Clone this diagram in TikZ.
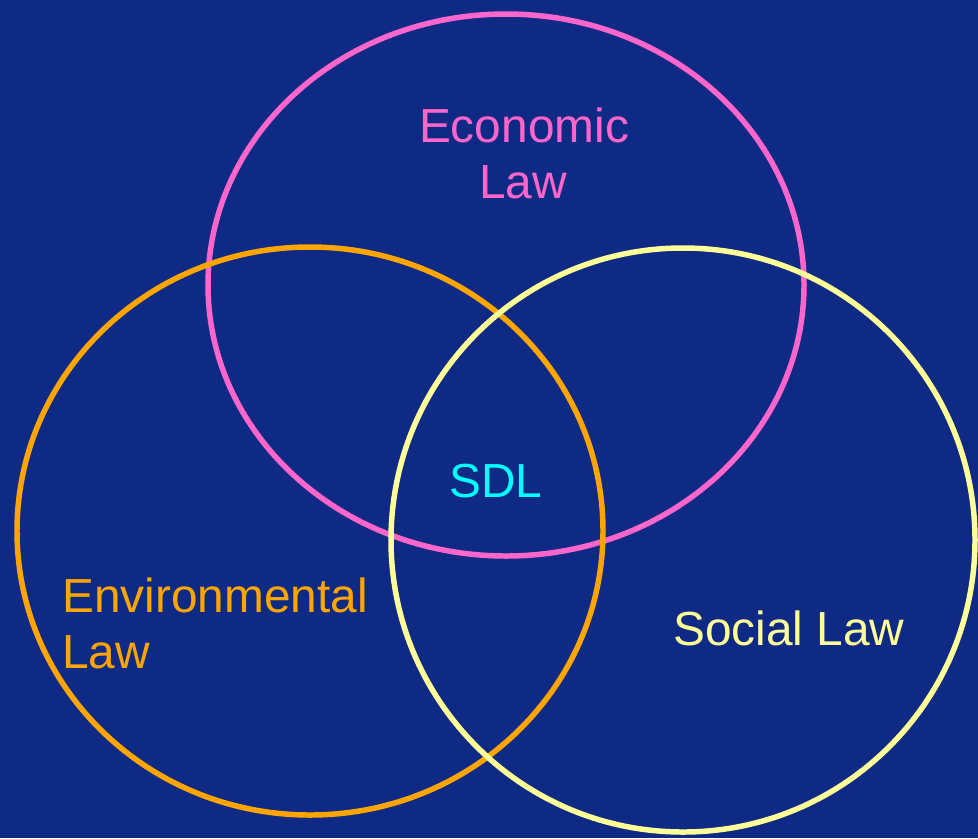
\documentclass[tikz,border=0pt]{standalone}
\usepackage{fontspec}
\setmainfont{Liberation Sans}

\definecolor{bgblue}{RGB}{14,42,132}
\definecolor{econpink}{RGB}{255,102,204}
\definecolor{envorange}{RGB}{255,165,0}
\definecolor{socyellow}{RGB}{255,255,153}
\definecolor{sdlcyan}{RGB}{0,255,255}

\begin{document}
\begin{tikzpicture}[x=0.025cm,y=-0.025cm]
  \tikzset{
    ring/.style={line width=3.9pt},
    lawtext/.style={font=\fontsize{34}{41}\selectfont, inner sep=0pt}
  }
  % background
  \useasboundingbox (0,0) rectangle (978,838);
  \fill[bgblue] (0,0) rectangle (978,838);

  % the three rings
  \draw[ring, econpink] (506,285) ellipse [x radius=298, y radius=271];
  \draw[ring, envorange] (310,531) ellipse [x radius=293, y radius=284];
  \draw[ring, socyellow] (683,540) ellipse [x radius=292, y radius=292];

  % labels
  \node[lawtext, text=econpink, anchor=base] (econ) at (524,142) {Economic};
  \node[lawtext, text=econpink, anchor=base] (econlaw) at (523,198) {Law};
  \node[lawtext, text=sdlcyan, anchor=base] (sdl) at (496,497) {SDL};
  \node[lawtext, text=envorange, anchor=base west] (env) at (62,612) {Environmental};
  \node[lawtext, text=envorange, anchor=base west] (envlaw) at (62,668) {Law};
  \node[lawtext, text=socyellow, anchor=base west] (social) at (673,645) {Social Law};
\end{tikzpicture}
\end{document}
